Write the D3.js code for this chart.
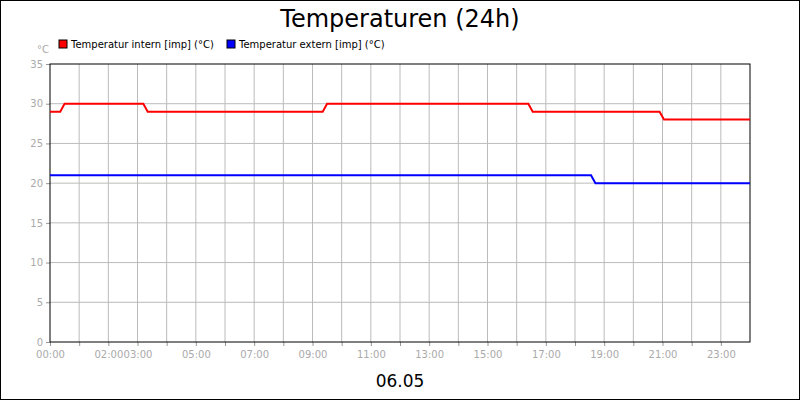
<!DOCTYPE html>
<html><head><meta charset="utf-8">
<script src="https://cdn.jsdelivr.net/npm/d3@7"></script>
<style>body{margin:0;background:#fff}svg{display:block;font-family:"DejaVu Sans",sans-serif}</style>
</head><body><div id="plot"></div>
<script>
const w = 800, h = 400;
const margin = {top: 64, right: 50, bottom: 58, left: 50};

// hours since 00:00, value in °C (step series, short ramps between levels)
const internHours = [0, 0.35, 0.5, 3.2, 3.35, 9.35, 9.5, 16.4, 16.55, 20.9, 21.05, 24];
const internTemps = [29, 29, 30, 30, 29, 29, 30, 30, 29, 29, 28, 28];
const externHours = [0, 18.55, 18.7, 24];
const externTemps = [21, 21, 20, 20];
const tickHours = [0, 2, 3, 5, 7, 9, 11, 13, 15, 17, 19, 21, 23];
const yTicks = [0, 5, 10, 15, 20, 25, 30, 35];

const svg = d3.select("#plot").append("svg").attr("width", w).attr("height", h);
svg.append("rect").attr("x", 0.5).attr("y", 0.5).attr("width", w - 1).attr("height", h - 1)
    .attr("fill", "#fff").attr("stroke", "#000");

const x = d3.scaleLinear().domain([0, 24]).range([margin.left, w - margin.right]);
const y = d3.scaleLinear().domain([0, 35]).range([h - margin.bottom, margin.top]);

// grid
svg.append("g").selectAll("line").data(d3.range(1, 24)).join("line")
    .attr("x1", d => x(d)).attr("x2", d => x(d)).attr("y1", y(35)).attr("y2", y(0))
    .attr("stroke", "#bbb");
svg.append("g").selectAll("line").data(yTicks.slice(1, -1)).join("line")
    .attr("x1", x(0)).attr("x2", x(24)).attr("y1", d => y(d)).attr("y2", d => y(d))
    .attr("stroke", "#bbb");

// axes
const fmt = d => String(d).padStart(2, "0") + ":00";
const xAxis = svg.append("g").attr("transform", `translate(0,${y(0)})`)
    .call(d3.axisBottom(x).tickValues(d3.range(0, 24)).tickSize(4).tickFormat(d => tickHours.includes(d) ? fmt(d) : ""));
const yAxis = svg.append("g").attr("transform", `translate(${x(0)},0)`)
    .call(d3.axisLeft(y).tickValues(yTicks).tickSize(4));
[xAxis, yAxis].forEach(a => {
  a.select(".domain").remove();
  a.selectAll(".tick line").attr("stroke", "#999");
  a.selectAll("text").attr("fill", "#aaa").attr("font-size", 10).attr("font-family", "DejaVu Sans");
});
xAxis.selectAll("text").attr("dy", "0.9em");

svg.append("rect").attr("x", x(0)).attr("y", y(35)).attr("width", x(24) - x(0)).attr("height", y(0) - y(35))
    .attr("fill", "none").attr("stroke", "#000");

const line = d3.line().x(d => x(d[0])).y(d => y(d[1]));
svg.append("path").datum(d3.zip(internHours, internTemps)).attr("d", line)
    .attr("fill", "none").attr("stroke", "#f00").attr("stroke-width", 2);
svg.append("path").datum(d3.zip(externHours, externTemps)).attr("d", line)
    .attr("fill", "none").attr("stroke", "#00f").attr("stroke-width", 2);

// texts
svg.append("text").attr("x", 400).attr("y", 27).attr("text-anchor", "middle")
    .attr("font-size", 24).text("Temperaturen (24h)");
svg.append("text").attr("x", 400).attr("y", 387).attr("text-anchor", "middle")
    .attr("font-size", 17).text("06.05");
svg.append("text").attr("x", 37).attr("y", 53).attr("fill", "#aaa").attr("font-size", 10).text("°C");

const legend = [["Temperatur intern [imp] (°C)", "#f00", 59], ["Temperatur extern [imp] (°C)", "#00f", 227]];
legend.forEach(([t, c, lx]) => {
  svg.append("rect").attr("x", lx).attr("y", 40).attr("width", 8).attr("height", 8)
      .attr("fill", c).attr("stroke", "#000");
  svg.append("text").attr("x", lx + 12).attr("y", 48).attr("font-size", 10).text(t);
});
</script></body></html>
